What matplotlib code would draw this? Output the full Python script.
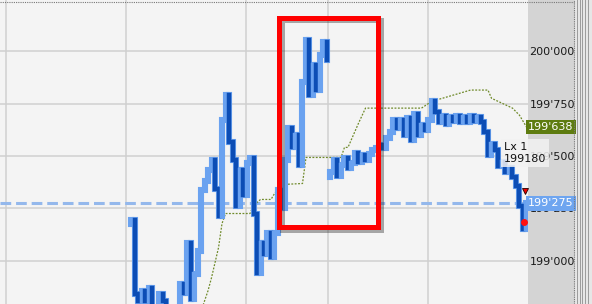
import numpy as np
import matplotlib
matplotlib.use('Agg')
import matplotlib.pyplot as plt
from matplotlib.patches import Rectangle
from matplotlib.lines import Line2D
from matplotlib.ticker import FuncFormatter
import matplotlib.patheffects as pe

# closing prices per bar, two sessions (gap between them)
session_a_start = 0
session_a = [199197, 198843, 198810, 198858, 198810, 198872, 198786, 198762, 198843, 198810,
             198786, 198762, 198772, 198786, 198891, 198848, 199087, 198819, 198939, 199049,
             199336, 199383, 199431, 199479, 199345, 199216, 199670, 199790, 199565, 199479,
             199264, 199431, 199312, 199465, 199489, 199226, 198944, 199087, 199034, 199135,
             199020, 199135, 199336, 199250, 199479, 199632, 199541, 199598, 199455, 199852,
             200053, 199790, 199933, 199814, 199981, 200043, 199957]
session_b_start = 57
session_b = [199422, 199479, 199407, 199455, 199489, 199441, 199465, 199512, 199469, 199503,
             199479, 199508, 199527, 199536, 199551, 199536, 199584, 199613, 199670, 199632,
             199670, 199598, 199680, 199575, 199699, 199598, 199646, 199622, 199670, 199761,
             199708, 199661, 199689, 199651, 199685, 199665, 199689, 199661, 199685, 199661,
             199689, 199665, 199685, 199661, 199613, 199503, 199555, 199527, 199450, 199469,
             199422, 199441, 199402, 199355, 199264, 199154, 199275]

# trailing stop (green dotted)
stop_bar = [20, 22, 23, 25, 26, 27, 34, 35, 37, 40, 41, 43, 49, 50, 60, 61, 62, 65, 67,
            83, 86, 89, 97, 102, 103, 109, 111, 113]
stop_price = [198760, 198858, 198920, 199063, 199178, 199226, 199226, 199264, 199293, 199293,
              199321, 199364, 199369, 199493, 199493, 199541, 199541, 199656, 199728,
              199728, 199761, 199775, 199814, 199814, 199775, 199728, 199694, 199638]

last_price = 199275
stop_last = 199638
price_ticks = [199000, 199250, 199500, 199750, 200000]
session_lines = [-35.7, -1.4, 32.9, 56.3, 84.9]
box_bars = [42.4, 70.7]
box_prices = [199160, 200157]
order_text = "Lx 1\n199180"
sell_mark = (112.6, 199333)
fill_mark = (112.4, 199186)

UP = '#6aa2f0'
DN = '#0c4db5'


def draw_session(ax, start, closes):
    closes = np.asarray(closes, dtype=float)
    x = start + np.arange(len(closes))
    prev = np.concatenate([[closes[0] - 20], closes[:-1]])
    lo = np.minimum(prev, closes)
    hi = np.maximum(prev, closes)
    hi = np.maximum(hi, lo + 12)
    cols = [UP if c >= p else DN for c, p in zip(closes, prev)]
    # light halo under every bar, then the coloured bar on top
    halo = ax.vlines(x, lo, hi, colors=UP, linewidth=4.4, zorder=4)
    halo.set_capstyle('projecting')
    lc = ax.vlines(x, lo, hi, colors=cols, linewidth=3.2, zorder=5)
    lc.set_capstyle('projecting')


fig = plt.figure(figsize=(5.92, 3.04), dpi=100)
fig.patch.set_facecolor('#d4d4d4')
ax = fig.add_axes([0, 0, 528 / 592, 1])
ax.set_facecolor('#f4f4f4')
for s in ax.spines.values():
    s.set_visible(False)

ax.set_xlim(-37.43, 113.43)
ax.set_ylim(198795, 200243)

# grid
for p in price_ticks:
    ax.axhline(p, color='#d0d0d0', lw=1.1, zorder=1)
for b in session_lines:
    ax.axvline(b, color='#d0d0d0', lw=1.1, zorder=1)

ax.set_xticks([])
ax.yaxis.tick_right()
ax.set_yticks(price_ticks)
ax.yaxis.set_major_formatter(FuncFormatter(lambda v, _: "{:,.0f}".format(v).replace(',', "'")))
ax.tick_params(axis='y', length=0, pad=1, labelsize=8, labelcolor='#1a1a1a')

# current price dashed line
ax.axhline(last_price, color='#94b8ec', lw=2.2, ls=(0, (3.5, 1.6)), zorder=2)

# trailing stop
ax.plot(stop_bar, stop_price, color='#6f8a2a', lw=0.9, ls=(0, (1.5, 1.2)), zorder=3)

draw_session(ax, session_a_start, session_a)
draw_session(ax, session_b_start, session_b)

# red highlight box
rect = Rectangle((box_bars[0], box_prices[0]), box_bars[1] - box_bars[0],
                 box_prices[1] - box_prices[0], fill=False, edgecolor='#ff0000',
                 lw=3.6, zorder=6)
rect.set_path_effects([pe.SimpleLineShadow(offset=(1.6, -1.6), shadow_color='#303030', alpha=0.4),
                       pe.Normal()])
ax.add_patch(rect)

# order markers
ax.plot(*sell_mark, marker='v', color='#ee0000', mec='#200000', mew=0.6, ms=5, zorder=7)
ax.plot(*fill_mark, marker='o', color='#ff1010', ms=5, mew=0, zorder=7)

# price labels on the axis
trans = ax.get_yaxis_transform()
ax.text(1.0, stop_last, "199'638", transform=trans, ha='left', va='center', fontsize=8,
        color='white', clip_on=False, zorder=8,
        bbox=dict(boxstyle='square,pad=0.18', fc='#5e7c10', ec='none'))
ax.text(1.0, last_price, "199'275", transform=trans, ha='left', va='center', fontsize=8,
        color='white', clip_on=False, zorder=8,
        bbox=dict(boxstyle='square,pad=0.22', fc='#6ea5f0', ec='none'))

# order tooltip
ax.text(0.955, 199515, order_text, transform=trans, ha='left', va='center', fontsize=8,
        color='#111111', clip_on=False, zorder=9, linespacing=1.25,
        bbox=dict(boxstyle='square,pad=0.25', fc='#f2f2f2', ec='none', alpha=0.85))

# frame decorations
fig.add_artist(Line2D([0, 574 / 592], [1 - 2 / 304] * 2, color='#777777', lw=0.8,
                      ls=(0, (1, 1)), transform=fig.transFigure))
fig.add_artist(Line2D([574 / 592] * 2, [0, 1], color='#777777', lw=0.8,
                      ls=(0, (1, 1)), transform=fig.transFigure))
fig.add_artist(Rectangle((575 / 592, 0), 17 / 592, 1, transform=fig.transFigure,
                         fc='#e6e6e6', ec='none', zorder=-1))
for xp in [577, 579.5, 582, 585, 588]:
    fig.add_artist(Line2D([xp / 592] * 2, [0, 1], color='#9a9a9a', lw=0.7,
                          transform=fig.transFigure))

fig.savefig('out.png', dpi=100, facecolor=fig.get_facecolor())
